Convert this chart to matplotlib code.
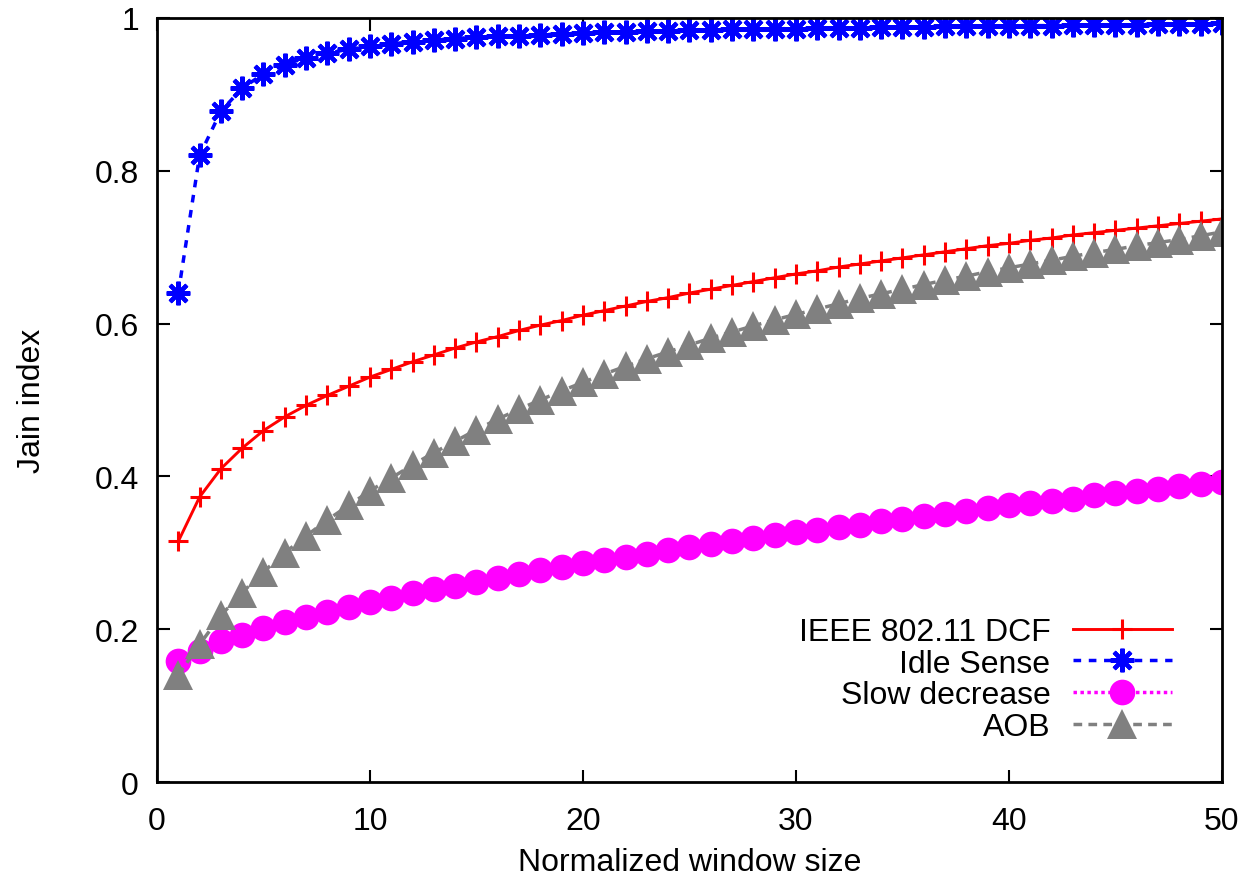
import numpy as np
import matplotlib
matplotlib.use("Agg")
import matplotlib.pyplot as plt

plt.rcParams['font.family'] = ['Liberation Sans', 'DejaVu Sans']

window = list(range(1, 51))

dcf = [0.315, 0.373, 0.410, 0.437, 0.460, 0.478, 0.493, 0.506, 0.518, 0.530,
       0.540, 0.550, 0.559, 0.568, 0.576, 0.583, 0.591, 0.598, 0.604, 0.611,
       0.617, 0.623, 0.629, 0.634, 0.640, 0.645, 0.650, 0.655, 0.660, 0.665,
       0.669, 0.674, 0.678, 0.682, 0.686, 0.690, 0.694, 0.698, 0.702, 0.705,
       0.709, 0.712, 0.716, 0.719, 0.722, 0.725, 0.728, 0.731, 0.734, 0.737]

idle_sense = [0.640, 0.820, 0.878, 0.908, 0.927, 0.939, 0.948, 0.954, 0.959, 0.963,
              0.966, 0.969, 0.971, 0.973, 0.975, 0.976, 0.977, 0.978, 0.979, 0.980,
              0.981, 0.982, 0.983, 0.983, 0.984, 0.984, 0.985, 0.985, 0.986, 0.986,
              0.987, 0.987, 0.987, 0.988, 0.988, 0.988, 0.989, 0.989, 0.989, 0.990,
              0.990, 0.990, 0.991, 0.991, 0.991, 0.991, 0.992, 0.992, 0.992, 0.993]

slow_decrease = [0.158, 0.172, 0.184, 0.193, 0.201, 0.209, 0.216, 0.222, 0.229, 0.235,
                 0.241, 0.247, 0.252, 0.257, 0.262, 0.267, 0.272, 0.277, 0.281, 0.286,
                 0.290, 0.295, 0.299, 0.303, 0.307, 0.311, 0.315, 0.319, 0.323, 0.327,
                 0.330, 0.334, 0.337, 0.341, 0.344, 0.348, 0.351, 0.355, 0.358, 0.362,
                 0.365, 0.368, 0.371, 0.375, 0.378, 0.381, 0.384, 0.387, 0.390, 0.393]

aob = [0.140, 0.180, 0.218, 0.248, 0.275, 0.300, 0.322, 0.343, 0.362, 0.381,
       0.398, 0.415, 0.431, 0.446, 0.461, 0.475, 0.488, 0.500, 0.512, 0.523,
       0.534, 0.544, 0.554, 0.563, 0.572, 0.581, 0.589, 0.597, 0.605, 0.612,
       0.619, 0.626, 0.633, 0.639, 0.645, 0.651, 0.657, 0.662, 0.668, 0.673,
       0.678, 0.683, 0.688, 0.693, 0.697, 0.702, 0.706, 0.710, 0.715, 0.720]

fig = plt.figure(figsize=(12.47, 8.78), dpi=100)
ax = fig.add_axes([0.1259, 0.1082, 0.854, 0.8702])

fs = 23
lw = 2.1
ax.plot(window, dcf, color='red', lw=lw, ls='-', marker='+', ms=14, mew=2.2,
        label='IEEE 802.11 DCF')
ax.plot(window, idle_sense, color='blue', lw=2.5, ls=(0, (2.2, 2.2)), marker=(8, 2, 0),
        ms=17, mew=3, label='Idle Sense')
ax.plot(window, slow_decrease, color='magenta', lw=2.5, ls=(0, (1.0, 1.0)), marker='o',
        ms=18.5, mew=0, label='Slow decrease')
ax.plot(window, aob, color='gray', lw=2.5, ls=(0, (2.5, 1.8)), marker='^', ms=21, mew=0,
        label='AOB')

ax.set_xlim(0, 50)
ax.set_ylim(0, 1)
ax.set_xticks([0, 10, 20, 30, 40, 50])
ax.set_yticks([0, 0.2, 0.4, 0.6, 0.8, 1])
ax.set_yticklabels(['0', '0.2', '0.4', '0.6', '0.8', '1'])
ax.tick_params(direction='in', length=9, width=1.5, top=True, right=True,
               labelsize=fs, pad=13)
ax.tick_params(axis='x', pad=17)
for s in ax.spines.values():
    s.set_linewidth(2)

ax.set_xlabel('Normalized window size', fontsize=fs, labelpad=8)
ax.set_ylabel('Jain index', fontsize=fs, labelpad=34)

leg = ax.legend(loc='lower right', bbox_to_anchor=(0.965, 0.036), frameon=False,
                fontsize=fs, markerfirst=False, handlelength=3.1,
                labelspacing=0.05, handletextpad=0.7, borderaxespad=0)
for t in leg.get_texts():
    t.set_ha('right')

fig.savefig('out.png', dpi=100)
